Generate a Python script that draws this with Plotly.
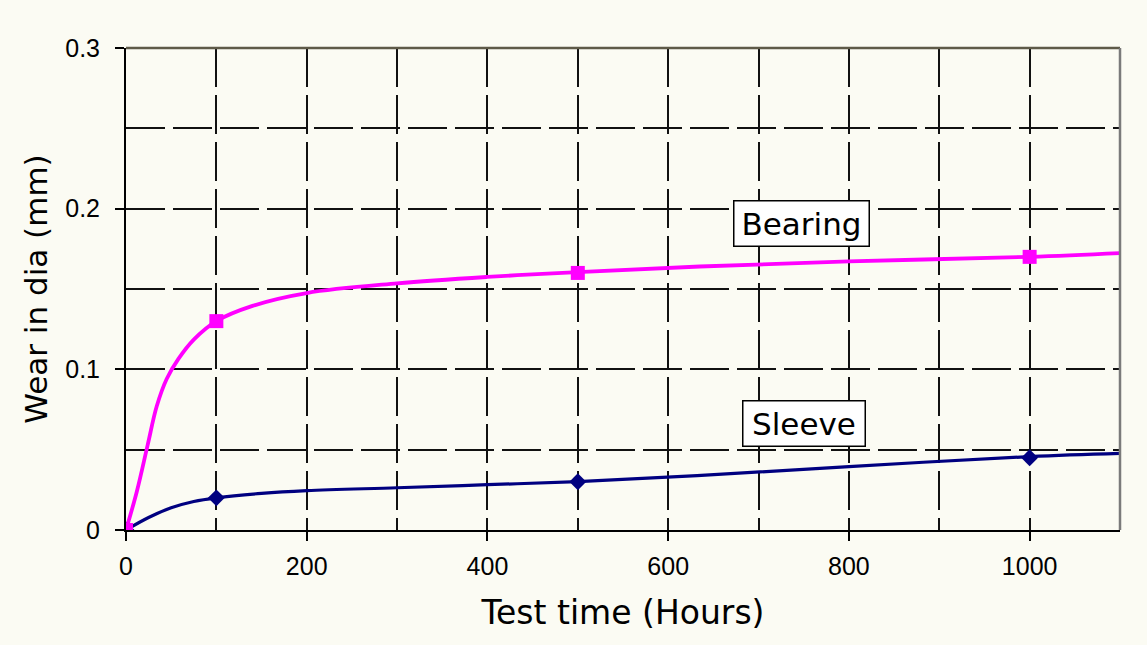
import plotly.graph_objects as go

# Measured points (markers)
hours = [0, 100, 500, 1000]
bearing = [0.0, 0.13, 0.16, 0.17]
sleeve = [0.0, 0.02, 0.03, 0.045]

# Smooth curves
bearing_curve_x = [0, 12, 24, 34, 45, 58, 75, 100, 140, 200, 300, 400, 500, 635, 800, 1000, 1100]
bearing_curve_y = [0.0, 0.024, 0.053, 0.077, 0.094, 0.1065, 0.1185, 0.130, 0.1395, 0.1475, 0.1535,
                   0.1575, 0.1605, 0.164, 0.1672, 0.170, 0.1723]
sleeve_curve_x = [0, 25, 50, 75, 100, 150, 200, 300, 400, 500, 632, 800, 1000, 1100]
sleeve_curve_y = [0.0, 0.0078, 0.0138, 0.0177, 0.020, 0.0228, 0.0245, 0.0263, 0.0282, 0.0301,
                  0.0338, 0.0395, 0.0457, 0.0477]

x_ticks = [0, 200, 400, 600, 800, 1000]
y_ticks = [0, 0.1, 0.2, 0.3]
y_tick_text = ["0", "0.1", "0.2", "0.3"]

labels = ["Bearing", "Sleeve"]
label_x = [748, 750]
label_y = [0.1905, 0.0662]
label_w = [130, 117]

MAGENTA = "#ff00ff"
NAVY = "#000080"
BG = "#fbfbf3"
TICKFONT = "Liberation Sans, Arial, sans-serif"
TITLEFONT = "DejaVu Sans, Verdana, sans-serif"
GRIDDASH = "39px,8px"

fig = go.Figure()
fig.add_trace(go.Scatter(x=sleeve_curve_x, y=sleeve_curve_y, mode="lines",
                         line=dict(color=NAVY, width=3.2, shape="spline", smoothing=1.0),
                         hoverinfo="skip", showlegend=False))
fig.add_trace(go.Scatter(x=hours, y=sleeve, mode="markers",
                         marker=dict(symbol="diamond", size=13, color=NAVY),
                         name="Sleeve", showlegend=False))
fig.add_trace(go.Scatter(x=bearing_curve_x, y=bearing_curve_y, mode="lines",
                         line=dict(color=MAGENTA, width=3.8, shape="spline", smoothing=1.0),
                         hoverinfo="skip", showlegend=False))
fig.add_trace(go.Scatter(x=hours, y=bearing, mode="markers",
                         marker=dict(symbol="square", size=14, color=MAGENTA),
                         name="Bearing", showlegend=False))

for t, xv, yv, w in zip(labels, label_x, label_y, label_w):
    fig.add_annotation(x=xv, y=yv, text=t, showarrow=False, width=w, height=40,
                       font=dict(family=TITLEFONT, size=31, color="black"),
                       bgcolor="white", bordercolor="black", borderwidth=1.5, borderpad=2)

fig.update_layout(
    width=1147, height=645,
    margin=dict(l=126, r=27, t=48, b=115),
    paper_bgcolor=BG, plot_bgcolor=BG,
    font=dict(family=TICKFONT, color="black"),
    showlegend=False,
)
fig.update_xaxes(
    range=[0, 1100], tickvals=x_ticks, ticks="outside", ticklen=9, tickwidth=2, tickcolor="black",
    tickfont=dict(size=25), showline=True, linecolor="black", linewidth=2,
    showgrid=True, gridcolor="#111", gridwidth=1.8, griddash=GRIDDASH,
    minor=dict(dtick=100, tick0=0, showgrid=True, gridcolor="#111", gridwidth=1.8, griddash=GRIDDASH),
    zeroline=False, ticklabelstandoff=4,
    title=dict(text="Test time (Hours)", font=dict(family=TITLEFONT, size=33), standoff=22),
)
fig.update_yaxes(
    range=[0, 0.3], tickvals=y_ticks, ticktext=y_tick_text, ticks="outside", ticklen=9, tickwidth=2,
    tickcolor="black", tickfont=dict(size=25), showline=True, linecolor="black", linewidth=2,
    showgrid=True, gridcolor="#111", gridwidth=1.8, griddash=GRIDDASH,
    minor=dict(dtick=0.05, tick0=0, showgrid=True, gridcolor="#111", gridwidth=1.8, griddash=GRIDDASH),
    zeroline=False, ticklabelstandoff=10,
    title=dict(text="Wear in dia (mm)", font=dict(family=TITLEFONT, size=31), standoff=8),
)
# frame: top and right borders
fig.add_shape(type="line", xref="paper", yref="paper", x0=0, x1=1, y0=1, y1=1,
              line=dict(color="#5e5a48", width=2.5))
fig.add_shape(type="line", xref="paper", yref="paper", x0=1, x1=1, y0=0, y1=1,
              line=dict(color="#7a7a7a", width=2.5))

fig.write_html(
    "out.html",
    config={"displayModeBar": False},
    post_script="document.body.style.margin='0';document.body.style.background='" + BG + "';",
)
